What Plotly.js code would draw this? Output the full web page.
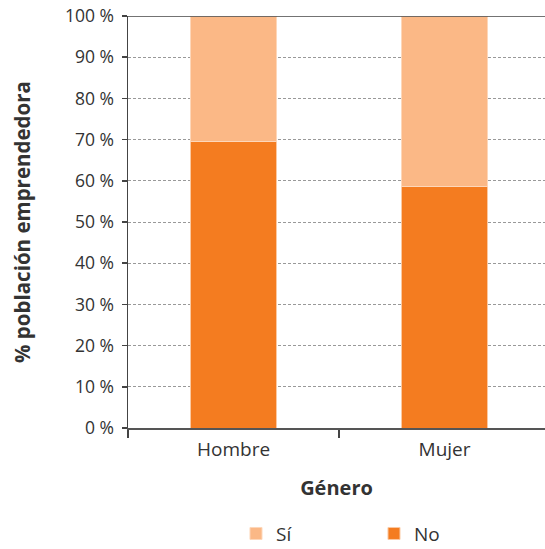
<!DOCTYPE html>
<html><head><meta charset="utf-8">
<script src="https://cdn.plot.ly/plotly-3.0.1.min.js"></script>
<style>html,body{margin:0;padding:0;background:#fff}#c{width:545px;height:549px}</style>
</head><body><div id="c"></div>
<script>
const categories = ["Hombre", "Mujer"];
const noValues = [69.6, 58.5];
const siValues = [30.4, 41.5];
const yTickVals = [0,10,20,30,40,50,60,70,80,90,100];
const yTickText = ["0 %","10 %","20 %","30 %","40 %","50 %","60 %","70 %","80 %","90 %","100 %"];

const font = "Open Sans, Noto Sans, sans-serif";
const data = [
  {type:"bar", name:"No", x:categories, y:noValues, marker:{color:"#F47C20", line:{color:"#FBC9A2", width:1}}, width:0.405},
  {type:"bar", name:"Sí", x:categories, y:siValues, marker:{color:"#FBB886", line:{color:"#FDD7BA", width:1}}, width:0.405}
];
const layout = {
  width:545, height:549,
  margin:{l:128, r:0, t:16, b:121, autoexpand:false},
  barmode:"stack",
  paper_bgcolor:"#fff", plot_bgcolor:"#fff",
  font:{family:font, size:17, color:"#333"},
  showlegend:true,
  legend:{orientation:"h", xref:"container", yref:"container", x:0.433, xanchor:"left", y:0.028, yanchor:"middle",
          traceorder:"reversed", entrywidth:93, font:{size:19, color:"#333"}},
  xaxis:{type:"category", range:[-0.5,1.476], tickson:"boundaries", ticks:"outside", ticklen:8, tickcolor:"#444", tickwidth:1.5,
         showline:true, linecolor:"#555", linewidth:1.5, showgrid:false, automargin:false,
         tickfont:{size:19, color:"#333"}, ticklabelstandoff:4,
         title:{text:"<b>Género</b>", font:{size:20, color:"#333"}, standoff:19}},
  yaxis:{range:[0,100], tickvals:yTickVals, ticktext:yTickText, ticks:"outside", ticklen:5, tickcolor:"#444", tickwidth:1.5,
         showline:true, linecolor:"#444", linewidth:1.5, mirror:false, automargin:false,
         showgrid:true, gridcolor:"#999", gridwidth:1, griddash:"3px,2px", zeroline:false,
         tickfont:{size:17.5, color:"#333"}, ticklabelstandoff:4,
         title:{text:"<b>% población emprendedora</b>", font:{size:20.5, color:"#333"}, standoff:29}},
  shapes:[{type:"line", xref:"paper", yref:"y", x0:0, x1:1, y0:100, y1:100, line:{color:"#444", width:1.5}}]
};
Plotly.newPlot("c", data, layout, {displayModeBar:false, staticPlot:true});
</script></body></html>
